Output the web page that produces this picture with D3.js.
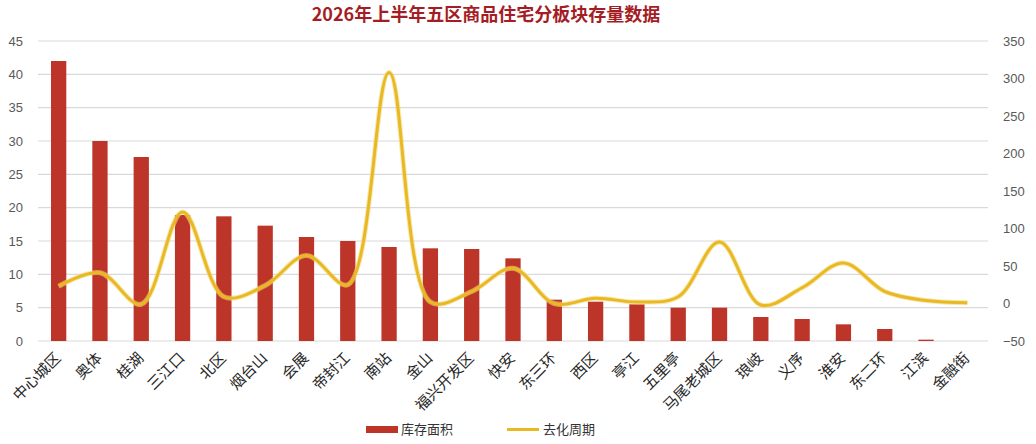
<!DOCTYPE html>
<html>
<head>
<meta charset="utf-8">
<script src="https://cdn.jsdelivr.net/npm/d3@7"></script>
<style>
  body { margin: 0; background: #fff; }
  text { font-family: "Noto Sans CJK SC", "Noto Sans", sans-serif; }
</style>
</head>
<body>
<script>
// 板块
var categories = ["中心城区", "奥体", "桂湖", "三江口", "北区", "烟台山", "会展", "帝封江", "南站", "金山",
  "福兴开发区", "快安", "东三环", "西区", "亭江", "五里亭", "马尾老城区", "琅岐", "义序", "淮安",
  "东二环", "江滨", "金融街"];
// 库存面积 (left axis)
var stock = [42, 30, 27.6, 18.9, 18.7, 17.3, 15.6, 15, 14.1, 13.9,
  13.8, 12.4, 6.2, 5.9, 5.5, 5, 5, 3.6, 3.3, 2.5,
  1.8, 0.2, 0];
// 去化周期 (right axis)
var cycle = [23, 41, -1, 122, 9, 24, 64, 25, 308, 2,
  16, 47, 0, 7, 2, 9, 82, -2, 21, 54,
  16, 4, 1];
var leftTicks = [0, 5, 10, 15, 20, 25, 30, 35, 40, 45];
var rightTicks = [-50, 0, 50, 100, 150, 200, 250, 300, 350];

var width = 1036,
    height = 444;
var margin = {left: 38, right: 48, top: 41, bottom: 103};

var svg = d3.select("body").append("svg")
    .attr("width", width)
    .attr("height", height)
    .style("display", "block");

var x = d3.scaleBand()
    .domain(categories)
    .range([margin.left, width - margin.right])
    .paddingInner(0.63)
    .paddingOuter(0.315);

var y = d3.scaleLinear()
    .domain([0, 45])
    .range([height - margin.bottom, margin.top]);

var y2 = d3.scaleLinear()
    .domain([-50, 350])
    .range([height - margin.bottom, margin.top]);

// title
svg.append("text")
    .attr("x", 486)
    .attr("y", 21)
    .attr("text-anchor", "middle")
    .attr("fill", "#a51d24")
    .attr("font-size", 18)
    .attr("font-weight", "bold")
    .text("2026年上半年五区商品住宅分板块存量数据");

// grid
svg.append("g")
    .selectAll("line")
    .data(leftTicks)
    .enter().append("line")
    .attr("x1", margin.left)
    .attr("x2", width - margin.right)
    .attr("y1", function(d) { return y(d); })
    .attr("y2", function(d) { return y(d); })
    .attr("stroke", "#d9d9d9")
    .attr("stroke-width", 1.2);

// left axis
var yAxis = svg.append("g")
    .attr("transform", "translate(" + (margin.left - 12) + ",0)")
    .call(d3.axisLeft(y).tickValues(leftTicks).tickSize(0));
yAxis.select(".domain").remove();
yAxis.selectAll("text")
    .attr("fill", "#595959")
    .attr("font-size", 13)
    .style("font-family", "'Liberation Sans', Arial, sans-serif");

// right axis
var y2Axis = svg.append("g")
    .attr("transform", "translate(" + (width - margin.right + 12) + ",0)")
    .call(d3.axisRight(y2).tickValues(rightTicks).tickSize(0));
y2Axis.select(".domain").remove();
y2Axis.selectAll("text")
    .attr("fill", "#595959")
    .attr("font-size", 13)
    .style("font-family", "'Liberation Sans', Arial, sans-serif");

// bars
svg.append("g")
    .selectAll("rect")
    .data(stock)
    .enter().append("rect")
    .attr("x", function(d, i) { return x(categories[i]); })
    .attr("y", function(d) { return y(d); })
    .attr("width", x.bandwidth())
    .attr("height", function(d) { return y(0) - y(d); })
    .attr("fill", "#bd3528");

// line
var line = d3.line()
    .x(function(d, i) { return x(categories[i]) + x.bandwidth() / 2; })
    .y(function(d) { return y2(d); })
    .curve(d3.curveCatmullRom.alpha(0.5));

svg.append("path")
    .datum(cycle)
    .attr("fill", "none")
    .attr("stroke", "#f3d77a")
    .attr("stroke-opacity", 0.6)
    .attr("stroke-width", 5)
    .attr("d", line);

svg.append("path")
    .datum(cycle)
    .attr("fill", "none")
    .attr("stroke", "#e8b923")
    .attr("stroke-width", 3)
    .attr("d", line);

// x labels
svg.append("g")
    .selectAll("text")
    .data(categories)
    .enter().append("text")
    .attr("transform", function(d) {
      return "translate(" + (x(d) + x.bandwidth() / 2 + 3) + "," + (height - margin.bottom + 18) + ") rotate(-45)";
    })
    .attr("text-anchor", "end")
    .attr("font-size", 15)
    .attr("fill", "#262626")
    .text(function(d) { return d; });

// legend
var legend = svg.append("g");
legend.append("rect")
    .attr("x", 366)
    .attr("y", 426)
    .attr("width", 32)
    .attr("height", 7)
    .attr("fill", "#bd3528");
legend.append("text")
    .attr("x", 401)
    .attr("y", 434)
    .attr("font-size", 13)
    .attr("fill", "#333")
    .text("库存面积");
legend.append("line")
    .attr("x1", 507)
    .attr("x2", 539)
    .attr("y1", 429.5)
    .attr("y2", 429.5)
    .attr("stroke", "#e8b923")
    .attr("stroke-width", 3);
legend.append("text")
    .attr("x", 543)
    .attr("y", 434)
    .attr("font-size", 13)
    .attr("fill", "#333")
    .text("去化周期");
</script>
</body>
</html>
